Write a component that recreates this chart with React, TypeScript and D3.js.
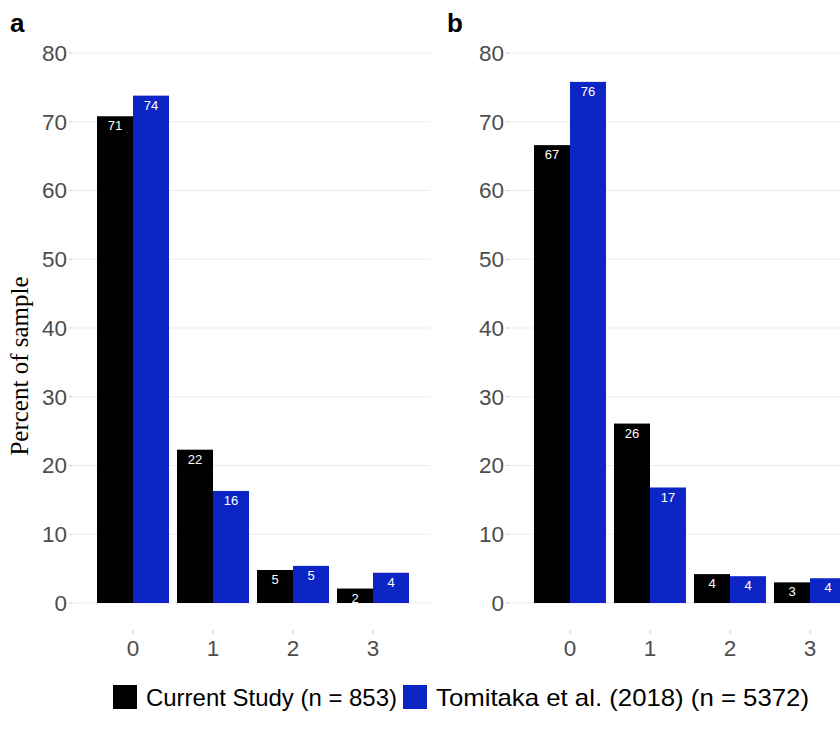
import React from "react";
import * as d3 from "d3";

const categories = ["0", "1", "2", "3"];
const currentA = [70.8, 22.3, 4.8, 2.1];
const tomitakaA = [73.8, 16.3, 5.4, 4.4];
const currentB = [66.6, 26.1, 4.2, 3.0];
const tomitakaB = [75.8, 16.8, 3.9, 3.6];
const yTicks = [0, 10, 20, 30, 40, 50, 60, 70, 80];
const seriesNames = ["Current Study (n = 853)", "Tomitaka et al. (2018) (n = 5372)"];
const seriesColors = ["#000000", "#0e25c5"];

const W = 840;
const H = 738;
const SANS = "'Liberation Sans', Arial, sans-serif";

const y = d3.scaleLinear().domain([0, 80]).range([603, 53]);

function Panel({ left, current, tomitaka, tag }: { left: number; current: number[]; tomitaka: number[]; tag: string }) {
  const x = d3
    .scaleBand<string>()
    .domain(categories)
    .range([left, left + 360])
    .paddingInner(0.1)
    .paddingOuter(0.3);
  const bw = x.bandwidth() / 2;
  const series = [current, tomitaka];
  return (
    <g>
      <text x={left - 63} y={32} fontFamily={SANS} fontWeight="bold" fontSize={26} fill="#000">
        {tag}
      </text>
      {yTicks.map((t) => (
        <g key={t}>
          <line x1={left} x2={left + 357} y1={y(t)} y2={y(t)} stroke="#ebebeb" strokeWidth={1} />
          <line x1={left - 4} x2={left - 0.5} y1={y(t)} y2={y(t)} stroke="#cccccc" strokeWidth={1} />
          <text
            x={left - 6}
            y={y(t)}
            dy="0.35em"
            textAnchor="end"
            fontFamily={SANS}
            fontSize={22.5}
            fill="#4d4d4d"
          >
            {t}
          </text>
        </g>
      ))}
      {categories.map((c) => {
        const cx = (x(c) as number) + x.bandwidth() / 2;
        return (
          <g key={c}>
            <line x1={cx} x2={cx} y1={630} y2={634} stroke="#cccccc" strokeWidth={1} />
            <text x={cx} y={656} textAnchor="middle" fontFamily={SANS} fontSize={22.5} fill="#4d4d4d">
              {c}
            </text>
          </g>
        );
      })}
      {series.map((vals, si) =>
        vals.map((v, i) => {
          const bx = (x(categories[i]) as number) + si * bw;
          return (
            <g key={si + "-" + i}>
              <rect x={bx} y={y(v)} width={bw} height={y(0) - y(v)} fill={seriesColors[si]} />
              <text
                x={bx + bw / 2}
                y={y(v) + 14}
                textAnchor="middle"
                fontFamily={SANS}
                fontSize={13}
                fill="#ffffff"
              >
                {Math.round(v)}
              </text>
            </g>
          );
        })
      )}
    </g>
  );
}

export default function App() {
  const legendX = [113, 403];
  const legendW = [251, 373];
  return (
    <svg
      width={W}
      height={H}
      viewBox={`0 0 ${W} ${H}`}
      style={{ position: "absolute", left: 0, top: 0, display: "block", background: "#fff" }}
    >
      <rect x={0} y={0} width={W} height={H} fill="#fff" />
      <Panel left={73} current={currentA} tomitaka={tomitakaA} tag="a" />
      <Panel left={510} current={currentB} tomitaka={tomitakaB} tag="b" />
      <text
        transform={`translate(28,366) rotate(-90)`}
        textAnchor="middle"
        fontFamily="'Liberation Serif', 'Times New Roman', serif"
        fontSize={25}
        fill="#000"
      >
        Percent of sample
      </text>
      {seriesNames.map((n, i) => (
        <g key={n}>
          <rect x={legendX[i]} y={685} width={24} height={24} fill={seriesColors[i]} />
          <text
            x={legendX[i] + 33}
            y={706}
            fontFamily={SANS}
            fontSize={24}
            fill="#000"
            textLength={legendW[i]}
            lengthAdjust="spacingAndGlyphs"
          >
            {n}
          </text>
        </g>
      ))}
    </svg>
  );
}
